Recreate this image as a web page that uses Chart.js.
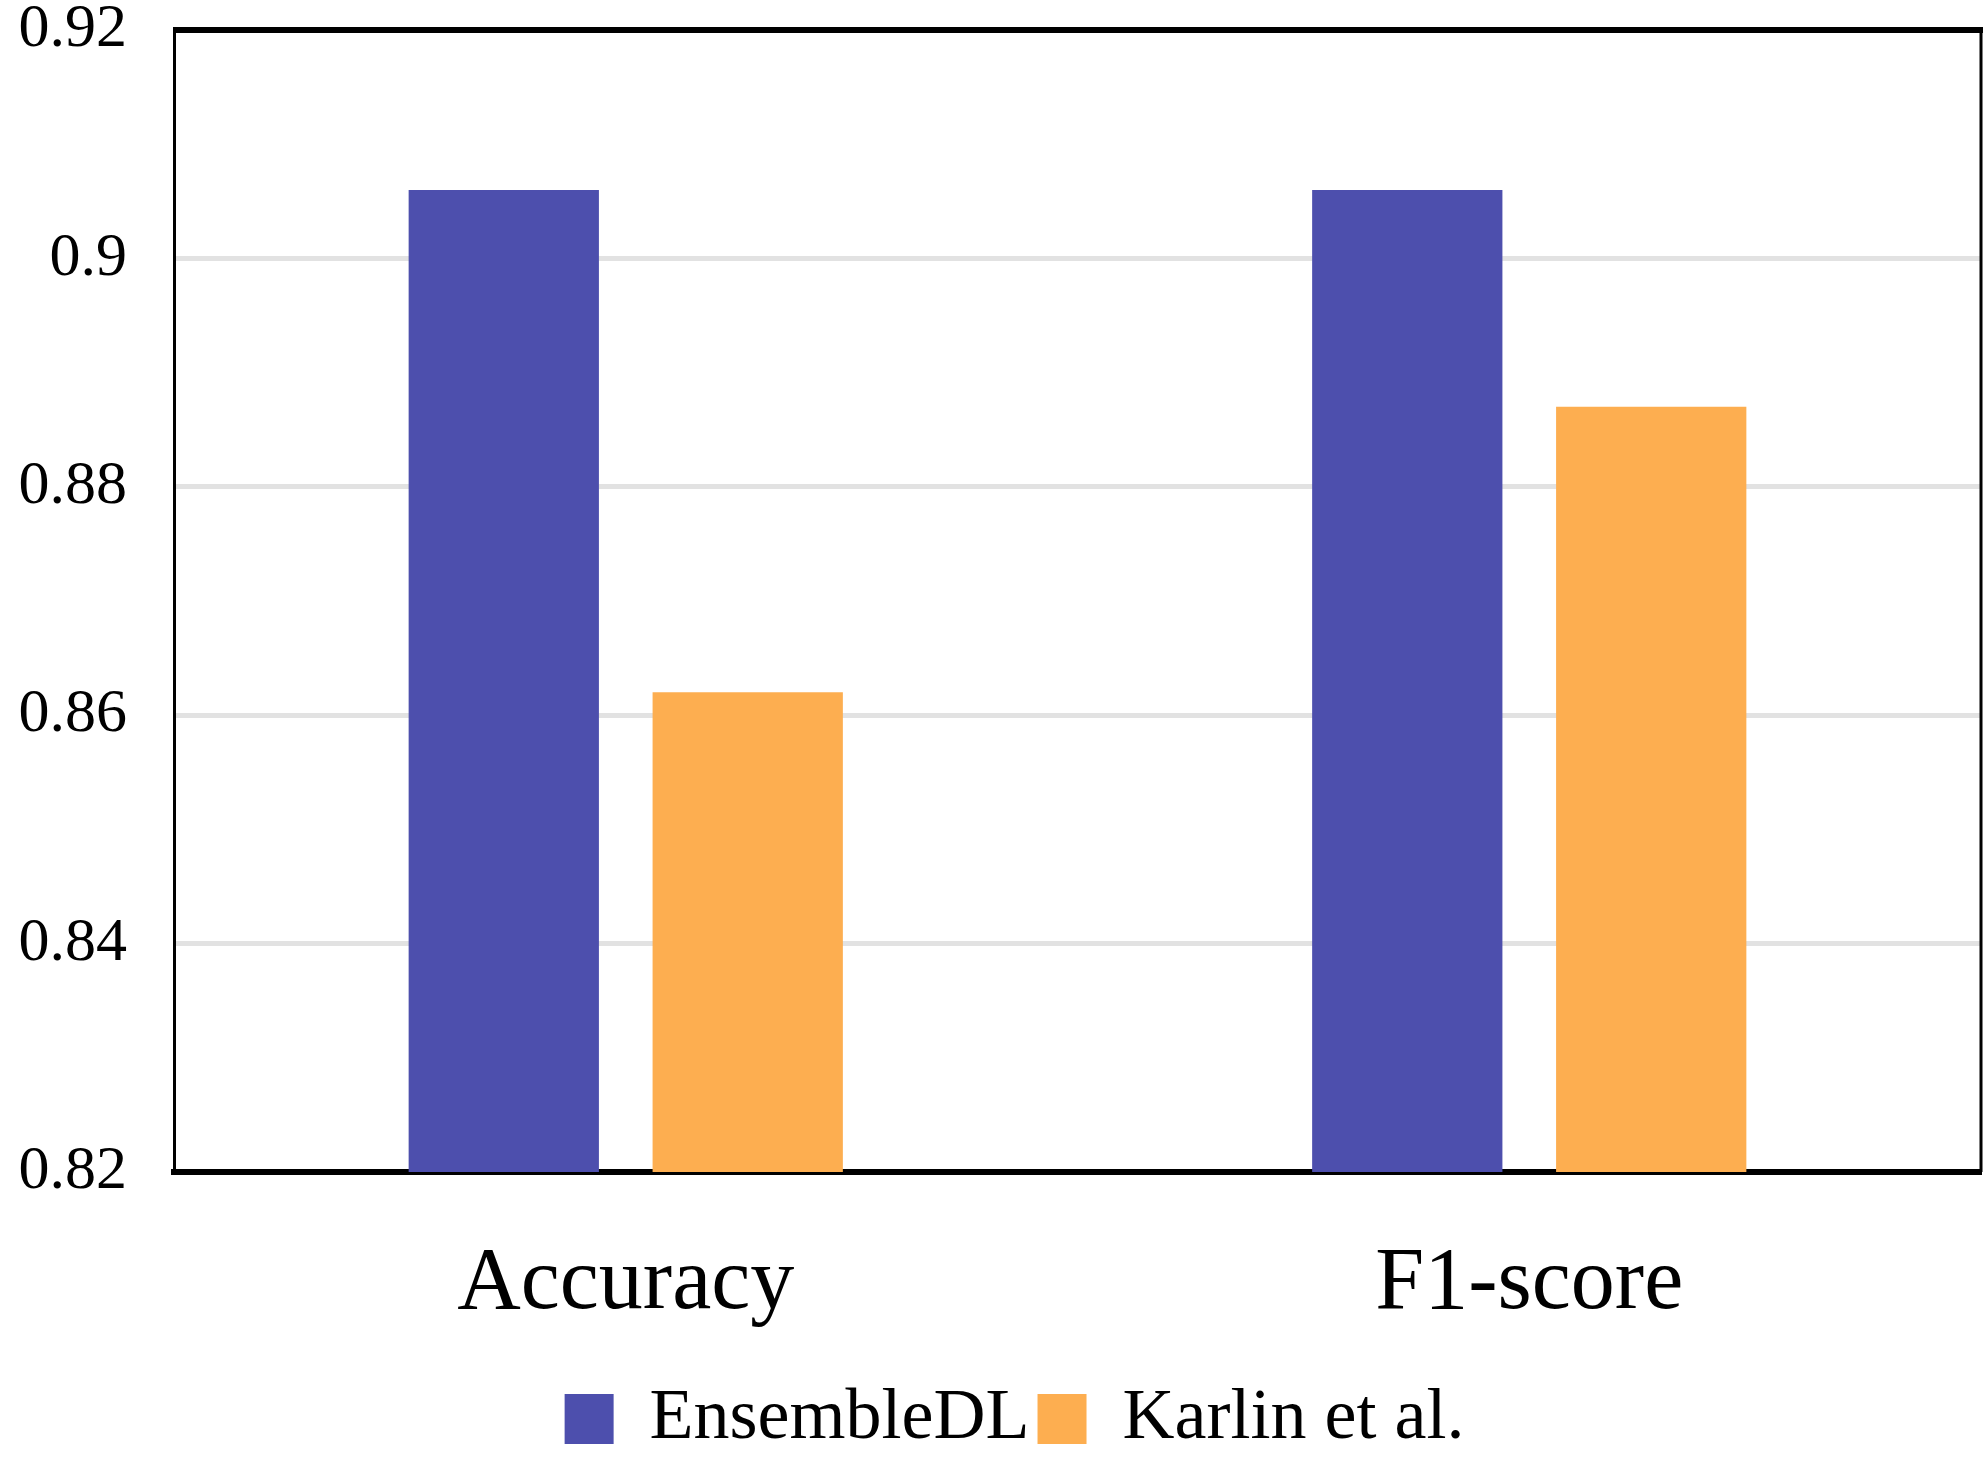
<!DOCTYPE html>
<html>
<head>
<meta charset="utf-8">
<title>EnsembleDL vs Karlin et al.</title>
<script src="https://cdn.jsdelivr.net/npm/chart.js@4/dist/chart.umd.min.js"></script>
<style>
  html, body { margin: 0; padding: 0; background: #ffffff; }
  #wrap { width: 1987px; height: 1459px; position: relative; }
</style>
</head>
<body>
<div id="wrap"><canvas id="myChart"></canvas></div>
<script>
// Define the data
var categories = ['Accuracy', 'F1-score'];
var ensembleDL = [0.906, 0.906];   // blue bars
var karlin = [0.862, 0.887];       // orange bars
var seriesNames = ['EnsembleDL', 'Karlin et al.'];
var yTickLabels = ['0.82', '0.84', '0.86', '0.88', '0.9', '0.92'];
// End Defining data

var serif = "'Liberation Serif', 'Times New Roman', serif";

// draws the top and right edge of the frame (left/bottom come from the axes)
var frame = {
  id: 'frame',
  afterLayout: function(chart) {
    // legend in the original sits a bit right of the page centre
    if (chart.legend) { chart.legend.left += 24; chart.legend.right += 24; }
  },
  afterDatasetsDraw: function(chart) {
    var a = chart.chartArea, c = chart.ctx;
    c.save();
    c.strokeStyle = '#000000';
    c.lineWidth = 6;
    c.beginPath(); c.moveTo(a.left - 1, a.top); c.lineTo(a.right + 2, a.top); c.stroke();
    c.lineWidth = 3;
    c.beginPath(); c.moveTo(a.right, a.top); c.lineTo(a.right, a.bottom); c.stroke();
    c.restore();
  }
};

var ctx = document.getElementById('myChart').getContext('2d');
var myChart = new Chart(ctx, {
  type: 'bar',
  data: {
    labels: categories,
    datasets: [{
      label: seriesNames[0],
      data: ensembleDL,
      backgroundColor: '#4d4fad',
      borderWidth: 0
    }, {
      label: seriesNames[1],
      data: karlin,
      backgroundColor: '#fdae50',
      borderWidth: 0
    }]
  },
  options: {
    responsive: true,
    maintainAspectRatio: false,
    animation: false,
    devicePixelRatio: 1,
    datasets: { bar: { categoryPercentage: 0.54, barPercentage: 0.78 } },
    layout: { padding: { left: 0, right: 6, top: 30, bottom: -6 } },
    plugins: {
      tooltip: { enabled: false },
      legend: {
        position: 'bottom',
        labels: {
          color: '#000000',
          font: { family: serif, size: 72 },
          boxWidth: 49,
          boxHeight: 50,
          padding: 8
        }
      }
    },
    scales: {
      x: {
        grid: { display: false, drawTicks: false },
        border: { display: true, color: '#000000', width: 6 },
        ticks: { color: '#000000', font: { family: serif, size: 88 }, padding: 60 },
        afterFit: function(scale) { scale.height = 203; scale.paddingLeft = 0; scale.paddingRight = 0; }
      },
      y: {
        min: 0.82,
        max: 0.92,
        grid: { color: '#e2e2e2', lineWidth: 5, drawTicks: false },
        border: { display: true, color: '#000000', width: 3 },
        ticks: {
          stepSize: 0.02,
          color: '#000000',
          font: { family: serif, size: 62 },
          padding: 47,
          callback: function(value, index) { return yTickLabels[index]; }
        },
        afterFit: function(scale) { scale.width = 174; scale.paddingTop = 0; scale.paddingBottom = 0; }
      }
    }
  },
  plugins: [frame]
});
</script>
</body>
</html>
